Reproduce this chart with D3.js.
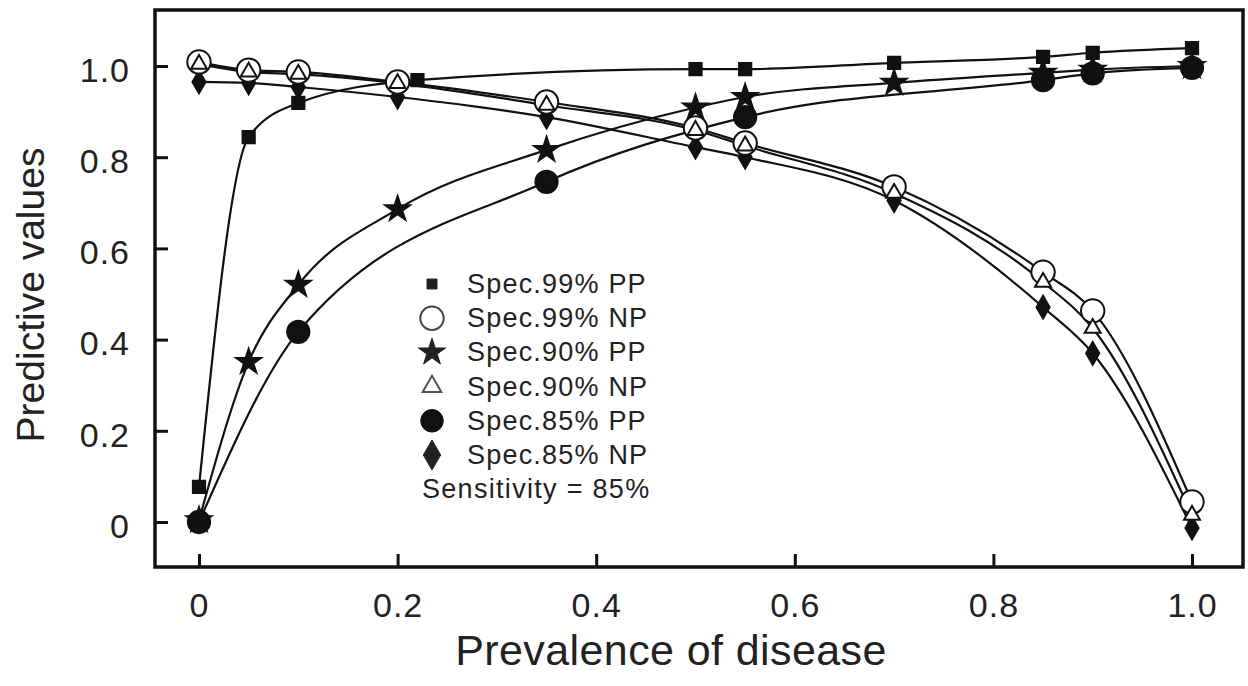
<!doctype html>
<html>
<head>
<script src="https://d3js.org/d3.v7.min.js"></script>
<style>
  body { margin: 0; background: #fff; }
  text { font-family: "Liberation Sans", Arial, Helvetica, sans-serif; fill: #222; }
</style>
</head>
<body>
<svg width="1248" height="686" id="chart"></svg>
<script>
// prevalence values (x) for each series
var prevAll = [0, 0.05, 0.1, 0.2, 0.35, 0.5, 0.55, 0.7, 0.85, 0.9, 1.0];
var prevSq = [0, 0.05, 0.1, 0.22, 0.5, 0.55, 0.7, 0.85, 0.9, 1.0];
var prevFc = [0, 0.1, 0.35, 0.55, 0.85, 0.9, 1.0];

// predictive values (y)
var spec99PP = [0.077, 0.844, 0.919, 0.969, 0.993, 0.993, 1.007, 1.020, 1.029, 1.039];
var spec99NP = [1.009, 0.991, 0.987, 0.965, 0.921, 0.864, 0.831, 0.735, 0.548, 0.463, 0.044];
var spec90PP = [0.004, 0.351, 0.520, 0.686, 0.816, 0.909, 0.932, 0.963, 0.985, 0.992, 1.000];
var spec90NP = [1.004, 0.987, 0.982, 0.962, 0.914, 0.859, 0.825, 0.721, 0.526, 0.425, 0.015];
var spec85PP = [0.000, 0.417, 0.746, 0.888, 0.969, 0.984, 0.996];
var spec85NP = [0.965, 0.963, 0.954, 0.932, 0.888, 0.822, 0.800, 0.705, 0.471, 0.370, -0.013];

var xTicks = [0, 0.2, 0.4, 0.6, 0.8, 1.0];
var yTicks = [0, 0.2, 0.4, 0.6, 0.8, 1.0];
var legendLabels = ["Spec.99% PP", "Spec.99% NP", "Spec.90% PP", "Spec.90% NP", "Spec.85% PP", "Spec.85% NP"];
var noteLabel = "Sensitivity = 85%";

var svg = d3.select("#chart");

var x = d3.scaleLinear().domain([0, 1]).range([199, 1192]);
var y = d3.scaleLinear().domain([0, 1]).range([522, 66]);

var fmt = function (d) { return d === 0 ? "0" : d3.format(".1f")(d); };

// axes, ticks pointing inward
var xAxis = svg.append("g")
  .attr("transform", "translate(0,567)")
  .call(d3.axisBottom(x).tickValues(xTicks).tickSize(-13).tickPadding(26).tickFormat(fmt));
var yAxis = svg.append("g")
  .attr("transform", "translate(155,0)")
  .call(d3.axisLeft(y).tickValues(yTicks).tickSize(-13).tickPadding(25).tickFormat(fmt));

[xAxis, yAxis].forEach(function (a) {
  a.select(".domain").remove();
  a.selectAll(".tick line").attr("stroke", "#111").attr("stroke-width", 3);
  a.selectAll(".tick text")
    .style("font-size", "34px")
    .style("letter-spacing", "1px")
    .attr("fill", "#222");
});
yAxis.selectAll(".tick text").attr("dy", "0.45em");

// frame
svg.append("rect")
  .attr("x", 155).attr("y", 10)
  .attr("width", 1088).attr("height", 557)
  .attr("fill", "none")
  .attr("stroke", "#111")
  .attr("stroke-width", 3.5);

// axis titles
svg.append("text")
  .attr("x", 671).attr("y", 665)
  .attr("text-anchor", "middle")
  .style("font-size", "43px")
  .style("letter-spacing", "0.4px")
  .text("Prevalence of disease");

svg.append("text")
  .attr("text-anchor", "middle")
  .attr("transform", "translate(44,295)rotate(-90)")
  .style("font-size", "39px")
  .text("Predictive values");

// series
var series = [
  { xs: prevSq, ys: spec99PP, sym: d3.symbolSquare, size: 150, fill: "#111" },
  { xs: prevAll, ys: spec85NP, sym: d3.symbolDiamond, size: 150, fill: "#111" },
  { xs: prevFc, ys: spec85PP, sym: d3.symbolCircle, size: 390, fill: "#111" },
  { xs: prevAll, ys: spec90PP, sym: d3.symbolStar, size: 190, fill: "#111" },
  { xs: prevAll, ys: spec99NP, sym: d3.symbolCircle, size: 430, fill: "#fff" },
  { xs: prevAll, ys: spec90NP, sym: d3.symbolTriangle, size: 110, fill: "#fff" }
];

var line = d3.line()
  .x(function (d) { return x(d[0]); })
  .y(function (d) { return y(d[1]); })
  .curve(d3.curveMonotoneX);

series.forEach(function (s) {
  s.pts = s.xs.map(function (v, i) { return [v, s.ys[i]]; });
  svg.append("path")
    .datum(s.pts)
    .attr("d", line)
    .attr("fill", "none")
    .attr("stroke", "#111")
    .attr("stroke-width", 2.2);
});

series.forEach(function (s) {
  svg.append("g")
    .selectAll("path")
    .data(s.pts)
    .enter()
    .append("path")
    .attr("d", d3.symbol().type(s.sym).size(s.size))
    .attr("transform", function (d) { return "translate(" + x(d[0]) + "," + y(d[1]) + ")"; })
    .attr("fill", s.fill)
    .attr("stroke", "#111")
    .attr("stroke-width", 2);
});

// legend
var legendSyms = [
  { sym: d3.symbolSquare, size: 100, fill: "#222", stroke: "#222", sw: 1 },
  { sym: d3.symbolCircle, size: 430, fill: "#fff", stroke: "#444", sw: 2 },
  { sym: d3.symbolStar, size: 230, fill: "#222", stroke: "#222", sw: 1 },
  { sym: d3.symbolTriangle, size: 150, fill: "#fff", stroke: "#555", sw: 2 },
  { sym: d3.symbolCircle, size: 400, fill: "#111", stroke: "#111", sw: 1 },
  { sym: d3.symbolDiamond, size: 260, fill: "#222", stroke: "#222", sw: 1 }
];

var leg = svg.append("g");
legendLabels.forEach(function (lab, i) {
  var yy = 284 + i * 34.2;
  leg.append("path")
    .attr("d", d3.symbol().type(legendSyms[i].sym).size(legendSyms[i].size))
    .attr("transform", "translate(432," + yy + ")")
    .attr("fill", legendSyms[i].fill)
    .attr("stroke", legendSyms[i].stroke)
    .attr("stroke-width", legendSyms[i].sw);
  leg.append("text")
    .attr("x", 467).attr("y", yy + 9)
    .style("font-size", "27px")
    .style("letter-spacing", "1.2px")
    .text(lab);
});
leg.append("text")
  .attr("x", 422).attr("y", 284 + 6 * 34.2 + 9)
  .style("font-size", "27px")
  .style("letter-spacing", "1.3px")
  .text(noteLabel);
</script>
</body>
</html>
